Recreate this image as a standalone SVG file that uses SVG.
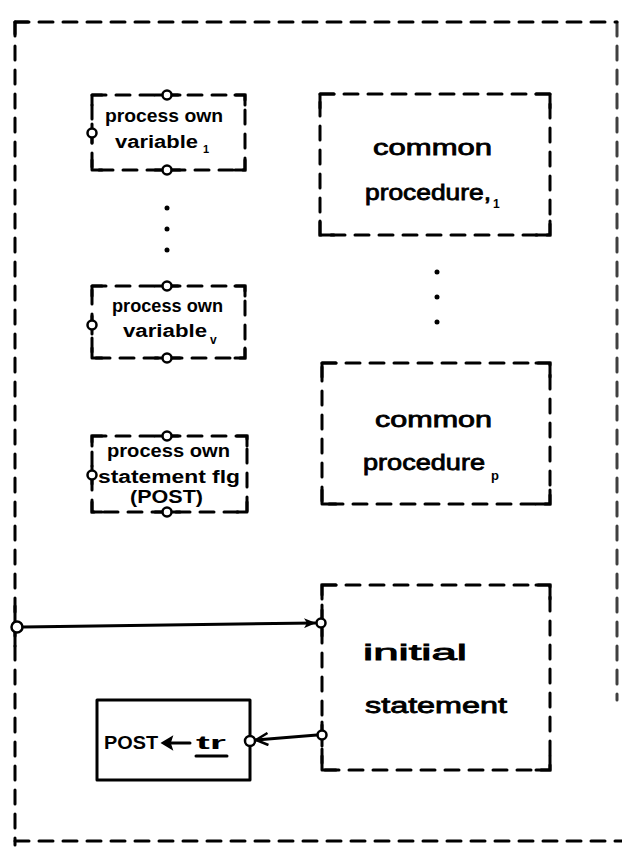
<svg xmlns="http://www.w3.org/2000/svg" width="622" height="852" viewBox="0 0 622 852">
<defs>
<style>
.dash{fill:none;stroke:#000;stroke-width:3;stroke-dasharray:14 10;stroke-linecap:round}
.solid{fill:none;stroke:#000;stroke-width:3;stroke-linecap:round;stroke-linejoin:round}
.port{fill:#fff;stroke:#000;stroke-width:2.5}
.t{font-family:"Liberation Sans","DejaVu Sans",sans-serif;font-weight:bold;fill:#000}
.s{font-size:18px}
.l{font-size:22px;font-weight:normal;stroke:#000;stroke-width:0.8}
.dot{fill:#000}
</style>
<marker id="head" viewBox="0 0 12 10" refX="11" refY="5" markerWidth="12" markerHeight="10" markerUnits="userSpaceOnUse" orient="auto">
<path d="M0,0 L12,5 L0,10 L3,5 Z" fill="#000"/>
</marker>
<marker id="vee" viewBox="0 0 14 14" refX="13" refY="7" markerWidth="14" markerHeight="14" markerUnits="userSpaceOnUse" orient="auto">
<path d="M1,1 L13,7 L1,13" fill="none" stroke="#000" stroke-width="2.5"/>
</marker>
</defs>

<g id="frame">
<path class="dash" d="M15,22 H617"/>
<path class="dash" d="M15,22 V845"/>
<path class="dash" d="M15,841 H622"/>
<path class="dash" d="M617,22 V700" opacity="0.75"/>
<path class="solid" d="M15,34 V22 H28"/>
</g>

<g id="own-var-1">
<rect class="dash" x="92" y="95" width="153" height="75"/>
<path class="solid" d="M92,105 V95 H102 M235,95 H245 V105 M92,160 V170 H102 M235,170 H245 V160"/>
<path class="solid" d="M155,95 H180 M155,170 H180 M92,124 V143"/>
<circle class="port" cx="167" cy="95" r="4.5"/>
<circle class="port" cx="167" cy="170" r="4.5"/>
<circle class="port" cx="92" cy="133" r="4.5"/>
<text class="t s" x="105" y="122" textLength="118" lengthAdjust="spacingAndGlyphs">process own</text>
<text class="t s" x="115" y="148" textLength="83" lengthAdjust="spacingAndGlyphs">variable</text>
<text class="t" x="203" y="153" font-size="11">1</text>
</g>

<g id="dots-left">
<circle class="dot" cx="167" cy="208" r="2.5"/>
<circle class="dot" cx="167" cy="229" r="2.5"/>
<circle class="dot" cx="167" cy="250" r="2.5"/>
</g>

<g id="own-var-v">
<rect class="dash" x="92" y="286" width="153" height="72"/>
<path class="solid" d="M92,296 V286 H102 M235,286 H245 V296 M92,348 V358 H102 M235,358 H245 V348"/>
<path class="solid" d="M155,286 H180 M155,358 H180 M92,316 V334"/>
<circle class="port" cx="167" cy="286" r="4.5"/>
<circle class="port" cx="167" cy="358" r="4.5"/>
<circle class="port" cx="92" cy="325" r="4.5"/>
<text class="t s" x="112" y="312" textLength="111" lengthAdjust="spacingAndGlyphs">process own</text>
<text class="t s" x="123" y="337" textLength="84" lengthAdjust="spacingAndGlyphs">variable</text>
<text class="t" x="210" y="344" font-size="12">v</text>
</g>

<g id="own-stmt-flag">
<rect class="dash" x="92" y="436" width="155" height="76"/>
<path class="solid" d="M92,446 V436 H102 M237,436 H247 V446 M92,502 V512 H102 M237,512 H247 V502"/>
<path class="solid" d="M155,436 H180 M155,512 H180 M92,466 V484"/>
<circle class="port" cx="167" cy="436" r="4.5"/>
<circle class="port" cx="167" cy="512" r="4.5"/>
<circle class="port" cx="92" cy="475" r="4.5"/>
<text class="t s" x="107" y="457" textLength="123" lengthAdjust="spacingAndGlyphs">process own</text>
<text class="t s" x="98" y="483" textLength="142" lengthAdjust="spacingAndGlyphs">statement flg</text>
<text class="t s" x="130" y="503" textLength="73" lengthAdjust="spacingAndGlyphs">(POST)</text>
</g>

<g id="common-proc-1">
<rect class="dash" x="320" y="94" width="230" height="141"/>
<path class="solid" d="M320,108 V94 H334 M536,94 H550 V108 M320,221 V235 H334 M536,235 H550 V221"/>
<text class="t l" x="373" y="155" textLength="119" lengthAdjust="spacingAndGlyphs">common</text>
<text class="t l" x="365" y="200" textLength="126" lengthAdjust="spacingAndGlyphs">procedure,</text>
<text class="t" x="493" y="208" font-size="12">1</text>
</g>

<g id="dots-right">
<circle class="dot" cx="437" cy="272" r="2.5"/>
<circle class="dot" cx="437" cy="297" r="2.5"/>
<circle class="dot" cx="437" cy="322" r="2.5"/>
</g>

<g id="common-proc-p">
<rect class="dash" x="322" y="363" width="228" height="141"/>
<path class="solid" d="M322,377 V363 H336 M536,363 H550 V377 M322,490 V504 H336 M536,504 H550 V490"/>
<text class="t l" x="375" y="427" textLength="117" lengthAdjust="spacingAndGlyphs">common</text>
<text class="t l" x="363" y="470" textLength="122" lengthAdjust="spacingAndGlyphs">procedure</text>
<text class="t" x="491" y="480" font-size="13">p</text>
</g>

<g id="initial-statement">
<rect class="dash" x="322" y="585" width="228" height="185"/>
<path class="solid" d="M322,599 V585 H336 M536,585 H550 V599 M322,756 V770 H336 M536,770 H550 V756"/>
<path class="solid" d="M322,610 V636 M322,722 V746"/>
<circle class="port" cx="321" cy="623" r="4.5"/>
<circle class="port" cx="322" cy="735" r="4.5"/>
<text class="t l" x="363" y="660" textLength="104" lengthAdjust="spacingAndGlyphs">initial</text>
<text class="t l" x="365" y="713" textLength="142" lengthAdjust="spacingAndGlyphs">statement</text>
</g>

<g id="post-box">
<rect class="solid" x="97" y="700" width="153" height="80" stroke-width="2.5"/>
<text class="t" x="104" y="749" font-size="19" textLength="54" lengthAdjust="spacingAndGlyphs">POST</text>
<path class="solid" d="M190,743 H168" stroke-width="2.5"/>
<path d="M162,743 L172,737 L170,743 L172,749 Z" fill="#000" stroke="#000" stroke-width="1.5"/>
<text class="t" x="196" y="749" font-size="19" textLength="30" lengthAdjust="spacingAndGlyphs">tr</text>
<path class="solid" d="M196,756 H227" stroke-width="2.5"/>
<circle class="port" cx="250" cy="741" r="5"/>
</g>

<g id="connectors">
<path class="solid" d="M15,606 V646" />
<circle class="port" cx="17" cy="627" r="5.5"/>
<path class="solid" d="M23,627 L315,623" marker-end="url(#head)" stroke-width="2.5"/>
<path class="solid" d="M317,735 L256,740" marker-end="url(#vee)" stroke-width="2.5"/>
</g>
</svg>
